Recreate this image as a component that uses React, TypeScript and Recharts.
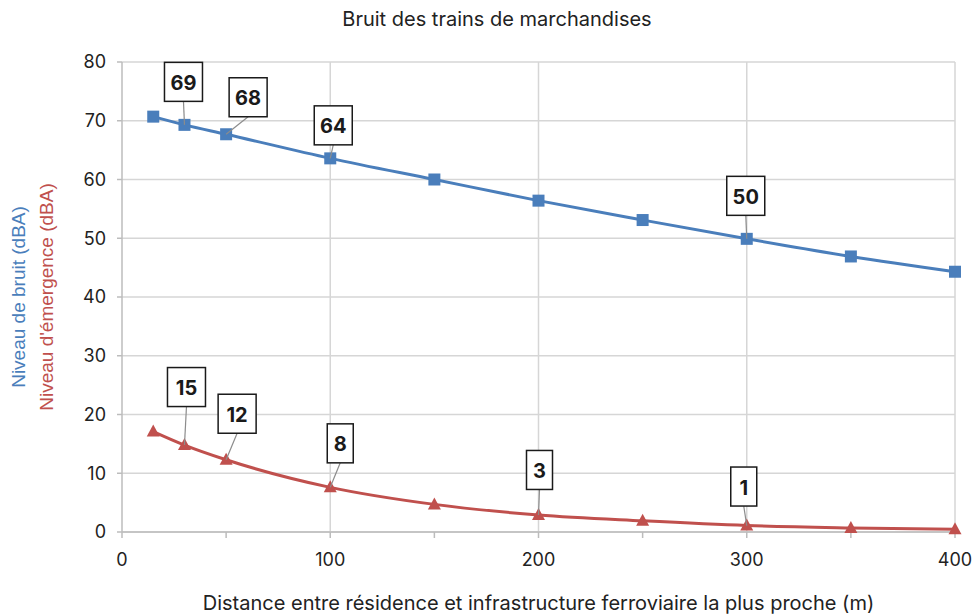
import { LineChart, Line, XAxis, YAxis, CartesianGrid, ReferenceLine, LabelList } from 'recharts';

// distances in metres
const distances = [15, 30, 50, 100, 150, 200, 250, 300, 350, 400];
// Niveau de bruit (dBA)
const noiseLevels = [70.7, 69.3, 67.7, 63.6, 60.0, 56.4, 53.1, 49.9, 46.9, 44.3];
// Niveau d'émergence (dBA)
const emergenceLevels = [17.1, 14.8, 12.3, 7.6, 4.7, 2.9, 1.9, 1.1, 0.7, 0.45];

const xTicks = [0, 50, 100, 150, 200, 250, 300, 350, 400];
const xMajorTicks = [100, 200, 300, 400];
const yTicks = [0, 10, 20, 30, 40, 50, 60, 70, 80];

// callout texts by point index
const noiseCallouts: Record<number, string> = { 1: '69', 2: '68', 3: '64', 7: '50' };
const emergenceCallouts: Record<number, string> = { 1: '15', 2: '12', 3: '8', 5: '3', 7: '1' };

const data = distances.map((d, i) => ({
    distance: d,
    noise: noiseLevels[i],
    emergence: emergenceLevels[i],
}));

const BLUE = '#4a7ebb';
const RED = '#c0504d';
const GRID = '#d6d6d6';
const AXIS = '#bcbcbc';
const TEXT = '#222222';
const FONT = 'Inter, "Liberation Sans", sans-serif';
const TITLE_FONT = '"Liberation Sans", Arial, sans-serif';

// box offsets from the data point (style only)
const noiseOffsets: Record<number, [number, number]> = { 1: [-1, -43], 2: [22, -37], 3: [3, -33], 7: [-1, -43] };
const emergenceOffsets: Record<number, [number, number]> = { 1: [2, -58], 2: [11, -46], 3: [10, -44], 5: [1, -45], 7: [-3, -39] };

const makeCallout = (texts: Record<number, string>, offsets: Record<number, [number, number]>) =>
    (props: any) => {
        const { index } = props;
        const x = props.x ?? props.viewBox?.x;
        const y = props.y ?? props.viewBox?.y;
        const text = texts[index];
        if (text === undefined || x == null || y == null) return null;
        const [dx, dy] = offsets[index];
        const w = text.length > 1 ? 38 : 26;
        const h = 39;
        const cx = x + dx;
        const cy = y + dy;
        return (
            <g>
                <line x1={x} y1={y} x2={cx} y2={cy + h / 2} stroke="#8c8c8c" strokeWidth={1.2} />
                <rect x={cx - w / 2} y={cy - h / 2} width={w} height={h} fill="#fff" stroke="#1a1a1a" strokeWidth={1.5} />
                <text
                    x={cx}
                    y={cy + 1}
                    textAnchor="middle"
                    dominantBaseline="central"
                    fontFamily={FONT}
                    fontWeight={700}
                    fontSize={20}
                    fill="#1a1a1a"
                >
                    {text}
                </text>
            </g>
        );
    };

const SquareDot = (props: any) => {
    const { cx, cy } = props;
    if (cx == null || cy == null) return null;
    return <rect x={cx - 6} y={cy - 6} width={12} height={12} fill={BLUE} />;
};

const TriangleDot = (props: any) => {
    const { cx, cy } = props;
    if (cx == null || cy == null) return null;
    return <polygon points={`${cx},${cy - 7} ${cx + 6.5},${cy + 5} ${cx - 6.5},${cy + 5}`} fill={RED} />;
};

const YTitle = (props: any) => {
    const vb = props.viewBox || {};
    const cy = (vb.y ?? 62) + (vb.height ?? 470) / 2;
    return (
        <g fontFamily={TITLE_FONT} fontSize={19}>
            <text x={18} y={cy} transform={`rotate(-90, 18, ${cy})`} textAnchor="middle" dominantBaseline="central" fill={BLUE}>
                Niveau de bruit (dBA)
            </text>
            <text x={46} y={cy} transform={`rotate(-90, 46, ${cy})`} textAnchor="middle" dominantBaseline="central" fill={RED}>
                Niveau d'émergence (dBA)
            </text>
        </g>
    );
};

const XTitle = (props: any) => {
    const vb = props.viewBox || {};
    const cx = (vb.x ?? 122) + (vb.width ?? 833) / 2;
    const y = (vb.y ?? 532) + 71;
    return (
        <text x={cx} y={y} textAnchor="middle" dominantBaseline="central" fontFamily={FONT} fontSize={20} fill={TEXT}>
            Distance entre résidence et infrastructure ferroviaire la plus proche (m)
        </text>
    );
};

export default function App() {
    return (
        <div style={{ position: 'relative', width: 978, height: 614, background: '#fff' }}>
            <style>{'body{margin:0}'}</style>
            <div
                style={{
                    position: 'absolute',
                    top: 7,
                    left: 8,
                    width: 978,
                    textAlign: 'center',
                    fontFamily: FONT,
                    fontSize: 20,
                    color: TEXT,
                }}
            >
                Bruit des trains de marchandises
            </div>
            <LineChart width={978} height={614} data={data} margin={{ top: 62, right: 23, bottom: 0, left: 0 }}>
                <CartesianGrid vertical={false} stroke={GRID} strokeWidth={1.5} />
                {xMajorTicks.map((v) => (
                    <ReferenceLine key={v} x={v} stroke={GRID} strokeWidth={1.5} />
                ))}
                <XAxis
                    dataKey="distance"
                    type="number"
                    domain={[0, 400]}
                    ticks={xTicks}
                    interval={0}
                    tickFormatter={(v: number) => (v % 100 === 0 ? String(v) : '')}
                    height={82}
                    stroke={AXIS}
                    strokeWidth={1.5}
                    tickSize={6}
                    tickMargin={15}
                    tick={{ fill: TEXT, fontSize: 18, fontFamily: FONT }}
                    label={{ content: XTitle }}
                />
                <YAxis
                    type="number"
                    domain={[0, 80]}
                    ticks={yTicks}
                    interval={0}
                    width={122}
                    stroke={AXIS}
                    strokeWidth={1.5}
                    tickSize={5}
                    tickMargin={11}
                    tick={{ fill: TEXT, fontSize: 18, fontFamily: FONT }}
                    label={{ content: YTitle }}
                />
                <Line
                    dataKey="noise"
                    type="monotone"
                    stroke={BLUE}
                    strokeWidth={3}
                    dot={<SquareDot />}
                    activeDot={false}
                    isAnimationActive={false}
                >
                    <LabelList dataKey="noise" content={makeCallout(noiseCallouts, noiseOffsets)} />
                </Line>
                <Line
                    dataKey="emergence"
                    type="monotone"
                    stroke={RED}
                    strokeWidth={3}
                    dot={<TriangleDot />}
                    activeDot={false}
                    isAnimationActive={false}
                >
                    <LabelList dataKey="emergence" content={makeCallout(emergenceCallouts, emergenceOffsets)} />
                </Line>
            </LineChart>
        </div>
    );
}
